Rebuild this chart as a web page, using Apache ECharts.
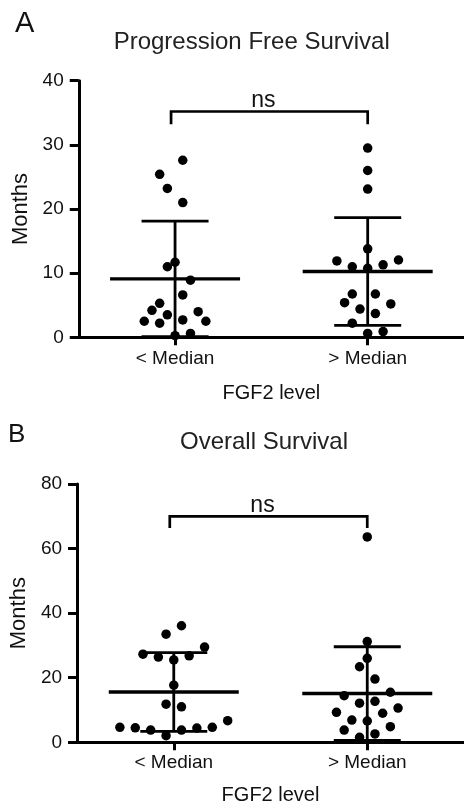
<!DOCTYPE html>
<html><head><meta charset="utf-8">
<script src="https://cdn.jsdelivr.net/npm/echarts@6/dist/echarts.min.js"></script>
<style>html,body{margin:0;padding:0;background:#fff}#c{width:464px;height:808px}</style>
</head><body><div id="c"></div>
<script>
// ---------------- data ----------------
const categories = ['< Median', '> Median'];
const xAxisName = 'FGF2 level';
const yAxisName = 'Months';
const pfsTitle = 'Progression Free Survival';
const osTitle = 'Overall Survival';
const sigLabel = 'ns';

// Panel A: progression free survival (months)
const pfsLow  = [27.6, 25.4, 23.2, 21.0, 11.7, 11.0, 8.9, 6.6, 5.3, 4.2, 3.5, 4.0, 2.5, 2.2, 2.7, 2.5, 0.25, 0.6];
const pfsLowSlot  = [1, -2, -1, 1, 0, -1, 2, 1, -2, -3, -1, 3, -4, -2, 1, 4, 0, 2];
const pfsHigh = [29.5, 26.0, 23.1, 13.8, 11.9, 11.0, 10.75, 11.3, 12.05, 6.75, 6.75, 5.4, 5.2, 4.4, 3.7, 2.2, 0.6, 0.9];
const pfsHighSlot = [0, 0, 0, 0, -4, -2, 0, 2, 4, -2, 1, -3, 3, -1, 1, -2, 0, 2];
const pfsMean = [9.1, 10.25];
const pfsSD   = [9.0, 8.4];
const pfsBracket = [35.2, 33.2];   // bracket top, bracket ends
const pfsTicks = [0, 40, 10];      // min, max, interval

// Panel B: overall survival (months)
const osLow  = [36.1, 33.5, 29.5, 27.3, 26.4, 25.5, 26.8, 17.7, 11.8, 11.0, 4.65, 4.5, 3.8, 2.05, 3.8, 4.4, 4.65, 6.7];
const osLowSlot  = [1, -1, 4, -4, -2, 0, 2, 0, -1, 1, -7, -5, -3, -1, 1, 3, 5, 7];
const osHigh = [63.6, 31.2, 26.0, 23.4, 19.6, 14.45, 15.5, 12.1, 12.7, 9.3, 10.6, 9.0, 6.9, 6.6, 4.85, 3.8, 1.55, 2.6];
const osHighSlot = [0, 0, 0, -1, 1, -3, 3, -1, 1, -4, 4, 2, -2, 0, 3, -3, -1, 1];
const osMean = [15.6, 15.1];
const osSD   = [12.2, 14.5];
const osBracket = [70.0, 66.4];
const osTicks = [0, 80, 20];

// ---------------- style constants ----------------
const FONT = 'Liberation Sans, Arial, sans-serif';
const INK = '#111';
const STEP = 7.7;        // px between jitter slots
const DOT = 9.5;
const MEAN_HALF = 65;
const CAP_HALF = 33.5;

function pts(vals, slots, cat) {
  return vals.map((v, i) => ({ value: [cat, v], symbolOffset: [slots[i] * STEP, 0] }));
}

function errRender(params, api) {
  const c = api.value(0), m = api.value(1), s = api.value(2);
  const pm = api.coord([c, m]), pt = api.coord([c, m + s]), pb = api.coord([c, Math.max(m - s, 0)]);
  const st = (w) => ({ stroke: '#000', lineWidth: w, fill: null });
  return { type: 'group', children: [
    { type: 'line', shape: { x1: pm[0] - MEAN_HALF, y1: pm[1], x2: pm[0] + MEAN_HALF, y2: pm[1] }, style: st(3.4) },
    { type: 'line', shape: { x1: pt[0], y1: pt[1], x2: pb[0], y2: pb[1] }, style: st(2.8) },
    { type: 'line', shape: { x1: pt[0] - CAP_HALF, y1: pt[1], x2: pt[0] + CAP_HALF, y2: pt[1] }, style: st(2.8) },
    { type: 'line', shape: { x1: pb[0] - CAP_HALF, y1: pb[1], x2: pb[0] + CAP_HALF, y2: pb[1] }, style: st(2.8) }
  ]};
}

function bracketRender(params, api) {
  const top = api.value(1), end = api.value(2);
  const a = api.coord([0, top]), b = api.coord([1, top]);
  const ae = api.coord([0, end]), be = api.coord([1, end]);
  const off = -4;
  return { type: 'group', children: [
    { type: 'polyline', shape: { points: [[ae[0] + off, ae[1]], [a[0] + off, a[1]], [b[0], b[1]], [be[0], be[1]]] },
      style: { stroke: '#000', lineWidth: 2.7, fill: null } },
    { type: 'text', x: (a[0] + off + b[0]) / 2 - 6, y: a[1] + 1,
      style: { text: sigLabel, font: '23px ' + FONT, fill: INK, align: 'center', verticalAlign: 'bottom' } }
  ]};
}

function xAxisCfg(gi, margin, gap) {
  return {
    type: 'category', gridIndex: gi, data: categories, boundaryGap: true,
    name: xAxisName, nameLocation: 'middle', nameGap: gap,
    nameTextStyle: { fontFamily: FONT, fontSize: 20, color: INK },
    axisLine: { show: true, lineStyle: { color: '#000', width: 3 } },
    axisTick: { show: true, alignWithLabel: true, length: 8, lineStyle: { color: '#000', width: 3 } },
    axisLabel: { fontFamily: FONT, fontSize: 19, color: INK, margin: margin },
    splitLine: { show: false }
  };
}
function yAxisCfg(gi, ticks) {
  return {
    type: 'value', gridIndex: gi, min: ticks[0], max: ticks[1], interval: ticks[2],
    name: yAxisName, nameLocation: 'middle', nameGap: 45, nameRotate: 90,
    nameTextStyle: { fontFamily: FONT, fontSize: 22, color: INK },
    axisLine: { show: true, lineStyle: { color: '#000', width: 3 } },
    axisTick: { show: true, length: 9, lineStyle: { color: '#000', width: 3 } },
    axisLabel: { fontFamily: FONT, fontSize: 19, color: INK, margin: 15 },
    splitLine: { show: false }
  };
}

function panelSeries(gi, low, lowSlot, high, highSlot, mean, sd, bracket) {
  return [
    { type: 'custom', xAxisIndex: gi, yAxisIndex: gi, renderItem: errRender, encode: { x: 0, y: 1 },
      data: mean.map((m, i) => [i, m, sd[i]]), z: 2, silent: true, clip: false },
    { type: 'scatter', xAxisIndex: gi, yAxisIndex: gi, symbol: 'circle', symbolSize: DOT,
      itemStyle: { color: '#000', opacity: 1 }, data: pts(low, lowSlot, 0), z: 3, silent: true, clip: false },
    { type: 'scatter', xAxisIndex: gi, yAxisIndex: gi, symbol: 'circle', symbolSize: DOT,
      itemStyle: { color: '#000', opacity: 1 }, data: pts(high, highSlot, 1), z: 3, silent: true, clip: false },
    { type: 'custom', xAxisIndex: gi, yAxisIndex: gi, renderItem: bracketRender, encode: { x: 0, y: 1 },
      data: [[0, bracket[0], bracket[1]]], z: 2, silent: true, clip: false }
  ];
}

const chart = echarts.init(document.getElementById('c'), null, { renderer: 'canvas' });
chart.setOption({
  animation: false,
  backgroundColor: '#fff',
  grid: [
    { left: 78.75, right: -4, top: 80.7, bottom: 470.7 },
    { left: 75.5, right: -0.5, top: 484, bottom: 65.7 }
  ],
  xAxis: [xAxisCfg(0, 12, 46), xAxisCfg(1, 11, 43)],
  yAxis: [yAxisCfg(0, pfsTicks), yAxisCfg(1, osTicks)],
  graphic: [
    { type: 'text', left: 15, top: 9, style: { text: 'A', font: '29px ' + FONT, fill: INK } },
    { type: 'text', x: 251.7, y: 42, style: { text: pfsTitle, font: '24px ' + FONT, fill: '#222', align: 'center', verticalAlign: 'middle' } },
    { type: 'text', left: 8, top: 422, style: { text: 'B', font: '26px ' + FONT, fill: INK } },
    { type: 'text', x: 264, y: 442, style: { text: osTitle, font: '24px ' + FONT, fill: '#222', align: 'center', verticalAlign: 'middle' } }
  ],
  series: [
    ...panelSeries(0, pfsLow, pfsLowSlot, pfsHigh, pfsHighSlot, pfsMean, pfsSD, pfsBracket),
    ...panelSeries(1, osLow, osLowSlot, osHigh, osHighSlot, osMean, osSD, osBracket)
  ]
});
</script></body></html>
